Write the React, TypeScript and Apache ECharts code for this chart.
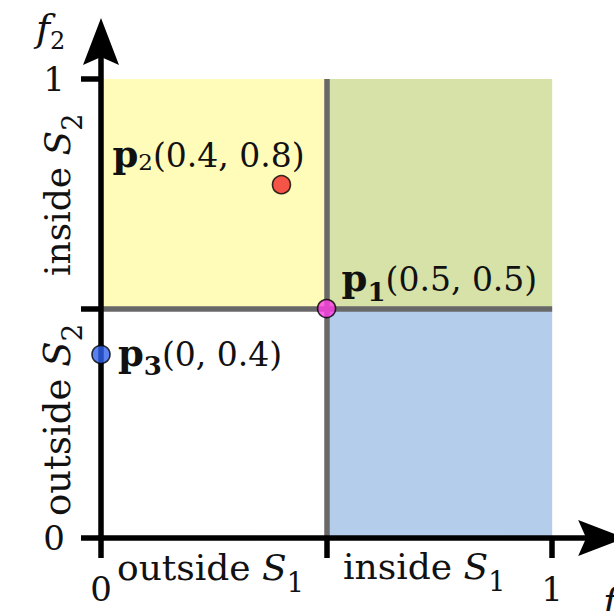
import React, { useEffect, useRef } from 'react';
import * as echarts from 'echarts';

// ---- data ----
const xTickValues = [0, 0.5, 1];
const yTickValues = [0, 0.5, 1];
const xTickLabelValues = [0, 1];
const yTickLabelValues = [0, 1];
const xAxisMax = 1.075;
const yAxisMax = 1.046;
const splitValue = 0.5;

const regionX0 = [0, 0.5, 0.5];
const regionX1 = [0.5, 1, 1];
const regionY0 = [0.5, 0.5, 0];
const regionY1 = [1, 1, 0.5];
const regionColors = ['#FFFCBA', '#D6E2A8', '#B4CDEA'];

const pointNames = ['1', '2', '3'];
const pointX = [0.5, 0.4, 0];
const pointY = [0.5, 0.77, 0.4];
const pointTexts = ['(0.5, 0.5)', '(0.4, 0.8)', '(0, 0.4)'];
const pointColors = ['#FF3DE6', '#F22A2A', '#2F62EE'];

const FONT = 'DejaVu Serif';
const INK = '#111';
const K = 0.346; // baseline offset below the em centre (DejaVu)

type Frag = { t: string; fs: number; bold?: boolean; italic?: boolean; dy?: number };

let measureCtx: CanvasRenderingContext2D | null = null;
function textWidth(f: Frag) {
  if (!measureCtx) measureCtx = document.createElement('canvas').getContext('2d');
  measureCtx!.font = `${f.italic ? 'italic ' : ''}${f.bold ? 'bold ' : ''}${f.fs}px "${FONT}"`;
  return measureCtx!.measureText(f.t).width;
}

// lays text fragments along a baseline starting at (x0, base); rot = reading upwards
function runText(x0: number, base: number, frags: Frag[], rot = false) {
  const els: any[] = [];
  let u = 0;
  frags.forEach((f) => {
    const v = (f.dy || 0) - K * f.fs;
    const text = f.t.replace(/\s+$/, '');
    if (text.length) {
      els.push({
        type: 'text',
        x: rot ? x0 + v : x0 + u,
        y: rot ? base - u : base + v,
        rotation: rot ? Math.PI / 2 : 0,
        z: 20,
        silent: true,
        style: {
          text,
          fontFamily: FONT,
          fontSize: f.fs,
          fontWeight: f.bold ? 'bold' : 'normal',
          fontStyle: f.italic ? 'italic' : 'normal',
          fill: INK,
          align: 'left',
          verticalAlign: 'middle',
        },
      });
    }
    u += textWidth(f);
  });
  return els;
}

const AW = 36; // axis word size
const AS = 27; // axis subscript size
const PW = 33; // point label size

const pointSub = [
  { fs: 26, bold: true, dy: 10 },
  { fs: 23, bold: false, dy: 3 },
  { fs: 26, bold: true, dy: 10 },
];
const pointLabelOffset = [
  [15, -18],
  [-169, -18],
  [17, 11],
];

const axisStyle = (isX: boolean) => ({
  type: 'value',
  min: 0,
  max: isX ? xAxisMax : yAxisMax,
  z: 5,
  axisLine: {
    show: true,
    symbol: ['none', 'none'],
    lineStyle: { color: '#000', width: 5.5 },
  },
  axisTick: {
    show: true,
    inside: false,
    length: 20,
    customValues: isX ? xTickValues : yTickValues,
    lineStyle: { color: '#000', width: 5.5 },
  },
  axisLabel: {
    customValues: isX ? xTickLabelValues : yTickLabelValues,
    margin: isX ? 34 : 36,
    fontFamily: FONT,
    fontSize: 34,
    color: INK,
  },
  splitLine: { show: false },
});

const option: any = {
  animation: false,
  grid: { left: 101, right: 614 - 586, top: 58, bottom: 73, containLabel: false },
  xAxis: axisStyle(true),
  yAxis: axisStyle(false),
  series: [
    {
      type: 'scatter',
      data: [],
      z: 1,
      silent: true,
      markArea: {
        silent: true,
        data: regionX0.map((x0, i) => [
          { coord: [x0, regionY0[i]], itemStyle: { color: regionColors[i], opacity: 1 } },
          { coord: [regionX1[i], regionY1[i]] },
        ]),
      },
    },
    {
      type: 'scatter',
      data: [],
      z: 3,
      silent: true,
      markLine: {
        silent: true,
        symbol: ['none', 'none'],
        label: { show: false },
        lineStyle: { color: '#686868', width: 5.5, type: 'solid' },
        data: [
          [{ coord: [splitValue, 0] }, { coord: [splitValue, 1] }],
          [{ coord: [0, splitValue] }, { coord: [1, splitValue] }],
        ],
      },
    },
    {
      type: 'scatter',
      z: 10,
      symbolSize: 18,
      data: pointX.map((x, i) => ({
        value: [x, pointY[i]],
        itemStyle: { color: pointColors[i], borderColor: '#000', borderWidth: 1.6 },
      })),
    },
  ],
};

export default function App() {
  const ref = useRef<HTMLDivElement>(null);
  useEffect(() => {
    document.body.style.margin = '0';
    const chart = echarts.init(ref.current!, undefined, { renderer: 'svg' });
    chart.setOption(option);
    const px = (x: number, y: number) => chart.convertToPixel({ gridIndex: 0 }, [x, y]) as number[];

    const [ox, oy] = px(0, 0);
    const [x1] = px(1, 0);
    const [, y1] = px(0, 1);

    let elements: any[] = [];
    // arrow heads
    elements.push({
      type: 'polygon',
      z: 15,
      silent: true,
      shape: { points: [[ox, y1 - 61], [ox + 18, y1 - 14], [ox, y1 - 22], [ox - 18, y1 - 14]] },
      style: { fill: '#000' },
    });
    elements.push({
      type: 'polygon',
      z: 15,
      silent: true,
      shape: { points: [[x1 + 73, oy], [x1 + 26, oy - 18], [x1 + 34, oy], [x1 + 26, oy + 18]] },
      style: { fill: '#000' },
    });

    // point labels
    pointX.forEach((x, i) => {
      const [cx, cy] = px(x, pointY[i]);
      const [dx, dy] = pointLabelOffset[i];
      elements = elements.concat(
        runText(cx + dx, cy + dy, [
          { t: 'p', fs: 37, bold: true },
          { t: pointNames[i], ...pointSub[i] },
          { t: pointTexts[i], fs: PW },
        ])
      );
    });

    // region words along the axes
    elements = elements.concat(
      runText(117, 580, [{ t: 'outside ', fs: AW }, { t: 'S', fs: AW, italic: true }, { t: '1', fs: AS, dy: 12 }]),
      runText(343, 579, [{ t: 'inside ', fs: AW }, { t: 'S', fs: AW, italic: true }, { t: '1', fs: AS, dy: 12 }]),
      runText(70, 276, [{ t: 'inside ', fs: AW }, { t: 'S', fs: AW, italic: true }, { t: '2', fs: AS, dy: 12 }], true),
      runText(70, 516, [{ t: 'outside ', fs: 37 }, { t: 'S', fs: 37, italic: true }, { t: '2', fs: 28, dy: 12 }], true),
      // axis names
      runText(36, 41, [{ t: 'f', fs: 38, italic: true }, { t: '2', fs: 24, dy: 8 }]),
      runText(603, 614, [{ t: 'f', fs: 38, italic: true }, { t: '1', fs: 24, dy: 8 }])
    );

    chart.setOption({ graphic: { elements } });
    return () => chart.dispose();
  }, []);
  return <div ref={ref} style={{ width: 614, height: 611 }} />;
}
